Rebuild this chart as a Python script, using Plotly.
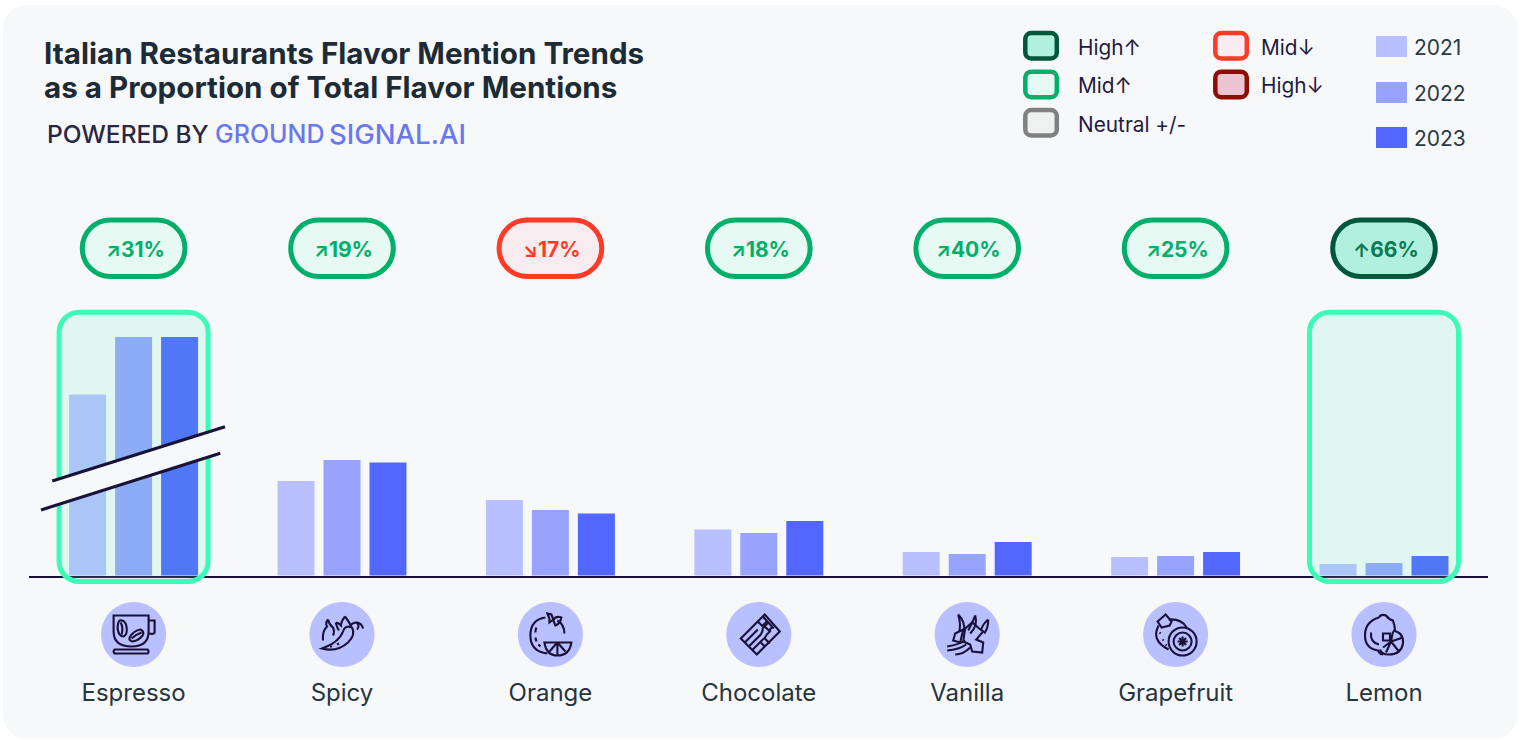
import re
import plotly.graph_objects as go

W, H = 1523, 740
categories = ["Espresso", "Spicy", "Orange", "Chocolate", "Vanilla", "Grapefruit", "Lemon"]
years = ["2021", "2022", "2023"]
v2021 = [18.2, 9.55, 7.65, 4.7, 2.45, 1.95, 1.25]
v2022 = [23.95, 11.65, 6.65, 4.35, 2.25, 2.05, 1.35]
v2023 = [23.95, 11.4, 6.3, 5.55, 3.45, 2.45, 2.05]
bar_colors = ["#B9C0FF", "#98A3FF", "#5366FF"]
pill_texts = ["31%", "19%", "17%", "18%", "40%", "25%", "66%"]
pill_arrows = ["↗", "↗", "↘", "↗", "↗", "↗", "↑"]
pill_kinds = ["mid_up", "mid_up", "mid_down", "mid_up", "mid_up", "mid_up", "high_up"]
highlighted = ["Espresso", "Lemon"]

STYLES = {
    "high_up": ("#00573A", "#B2F0DE", "#0A7A55"),
    "mid_up": ("#00B06A", "#E6F9F3", "#00B06A"),
    "neutral": ("#808080", "#EFF1F1", "#808080"),
    "mid_down": ("#FF3B28", "#F9ECF1", "#FF3B28"),
    "high_down": ("#8F0D00", "#E9C6D2", "#8F0D00"),
}
BG = "#F7F8FA"
INK = "#1A1138"
TEXT = "#26343E"
FONT = "Inter"

CAT_W = 208.4
X_LEFT = 29.4
CX = [X_LEFT + CAT_W * (i + 0.5) for i in range(7)]
BASE_Y = 575.5


def pxx(x):
    return x / W


def pxy(y):
    return 1 - y / H


def P(d, dx=0.0, dy=0.0):
    """Pixel-space SVG path (absolute M L Q C Z) to paper coordinates."""
    out, is_x = [], True
    for tok in re.findall(r"[MLQCZ]|-?\d+\.?\d*", d):
        if tok.isalpha():
            out.append(tok)
            is_x = True
        else:
            v = float(tok)
            out.append(f"{pxx(v + dx):.5f}" if is_x else f"{pxy(v + dy):.5f}")
            is_x = not is_x
    res, i = "", 0
    while i < len(out):
        t = out[i]
        if t.isalpha():
            res += t
            i += 1
        else:
            res += f"{out[i]},{out[i + 1]} "
            i += 2
    return res


def rr(x0, y0, x1, y1, r):
    k = r * 0.4477
    return (f"M{x0 + r} {y0} L{x1 - r} {y0} C{x1 - k} {y0} {x1} {y0 + k} {x1} {y0 + r} "
            f"L{x1} {y1 - r} C{x1} {y1 - k} {x1 - k} {y1} {x1 - r} {y1} "
            f"L{x0 + r} {y1} C{x0 + k} {y1} {x0} {y1 - k} {x0} {y1 - r} "
            f"L{x0} {y0 + r} C{x0} {y0 + k} {x0 + k} {y0} {x0 + r} {y0} Z")


def circ(cx, cy, r):
    k = 0.5523 * r
    return (f"M{cx - r} {cy} C{cx - r} {cy - k} {cx - k} {cy - r} {cx} {cy - r} "
            f"C{cx + k} {cy - r} {cx + r} {cy - k} {cx + r} {cy} "
            f"C{cx + r} {cy + k} {cx + k} {cy + r} {cx} {cy + r} "
            f"C{cx - k} {cy + r} {cx - r} {cy + k} {cx - r} {cy} Z")


shapes = []


def add_path(d, fill="rgba(0,0,0,0)", line=None, lw=0.0, layer="above", dx=0.0, dy=0.0):
    shapes.append(dict(type="path", xref="paper", yref="paper", path=P(d, dx, dy), fillcolor=fill,
                       line=dict(color=line or "rgba(0,0,0,0)", width=lw), layer=layer))


annotations = []


def add_text(x, y, text, size, color, anchor="left", weight=400, family=FONT):
    annotations.append(dict(xref="paper", yref="paper", x=pxx(x), y=pxy(y), text=text, showarrow=False,
                            xanchor=anchor, yanchor="middle", align=anchor,
                            font=dict(family=family, size=size, color=color, weight=weight)))


# Card
add_path(rr(3, 5, 1517.5, 738.5, 24), fill=BG, layer="below")

# Highlight boxes
for cat in highlighted:
    c = CX[categories.index(cat)]
    add_path(rr(c - 74.5, 312.2, c + 74.5, 581.5, 20), fill="rgba(60,250,180,0.12)", line="#3CFBB8", lw=5)

# Axis break on the Espresso bars
add_path("M52.3 481 L225 426.7 L220.3 453.3 L41 510 Z", fill=BG)
add_path("M52.3 481 L225 426.7", line=INK, lw=3)
add_path("M41 510 L220.3 453.3", line=INK, lw=3)

# Pills
for c, t, a, k in zip(CX, pill_texts, pill_arrows, pill_kinds):
    border, fill, txt = STYLES[k]
    add_path(rr(c - 51.3, 220, c + 51.3, 276.5, 28), fill=fill, line=border, lw=5)
    add_text(c + 1.5, 249.5, f'<span style="font-size:19px">{a}</span>{t}', 21, txt, "center", 700)

# Icons
ICONS = {
    "Espresso": [
        "M-20 -19 L15 -19 L15 -3 Q15 12 -2 12 Q-20 12 -20 -3 Z",
        "M15 -14 L21 -14 L21 -2 Q21 0 15 -1",
        "M-19 15 L14 15 Q16 17 14 19 L-19 19 Q-21 17 -19 15 Z",
        "M-14 -14 Q-8 -15 -7 -7 Q-6 0 -10 2 Q-15 2 -16 -6 Q-16 -12 -14 -14 Z",
        "M-13 -12 Q-10 -7 -12 0",
        "M-4 3 Q0 -4 7 -5 Q11 -3 9 1 Q5 6 -1 7 Q-5 6 -4 3 Z",
        "M-2 4 Q2 0 8 -2",
    ],
    "Spicy": [
        "M-20 14 Q-5 18 6 8 Q14 0 10 -7 Q3 -10 1 -3 Q-3 8 -20 14 Z",
        "M8 -7 Q9 -12 15 -12 Q20 -11 21 -6",
        "M15 -12 Q18 -8 15 -5",
        "M-14 -15 Q-13 -10 -9 -7 Q-7 -3 -9 1 M-14 -15 Q-17 -11 -15 -8 Q-20 -3 -19 6",
        "M3 -18 Q6 -14 9 -9 M3 -18 Q-1 -13 -1 -9 Q-5 -13 -6 -11 Q-5 -7 -3 -4",
        "M-12 12 L-10 12 M-5 10 L-3 9",
    ],
    "Orange": [
        "M-5 -17 Q-20 -15 -20 1 Q-20 17 -3 19",
        "M14 -1 Q14 -10 7 -14",
        "M-1 -16 L-3 -21 L1 -20 L3 -15 L-1 -12 Z",
        "M3 -14 Q5 -19 11 -17 Q10 -11 5 -9 Z",
        "M-6 8 L21 8 Q19 21 7 21 Q-4 21 -6 8 Z",
        "M7 8 L7 21 M7 8 L-1 17 M7 8 L15 17",
        "M-15 -2 Q-15 -5 -14 -7 M-15 3 L-14 7 M-12 10 L-10 12",
    ],
    "Chocolate": [
        "M-18 4 L6 -20 L21 -3 L-2 20 Z",
        "M-14 8 L-1 -5 M-10 12 L2 0 Q4 -3 4 -6 Q6 -9 10 -12",
        "M-6 15 L3 6 Q7 3 8 0 L12 -4",
        "M-1 -13 L4 -8 M4 -18 L15 -6 M9 -14 L4 -9 M14 -8 L10 -4 L6 -8",
        "M6 4 L11 9 M2 8 L6 12",
    ],
    "Vanilla": [
        "M-9 -20 Q-2 -13 -3 -3 M-9 -20 Q-6 -10 -8 -3",
        "M8 -19 Q11 -9 3 -1 M8 -19 Q5 -11 1 -4",
        "M21 -15 Q21 -6 17 -1 M21 -15 Q16 -11 14 -5",
        "M-2 -6 L5 -12 L12 -6 L16 -3 L9 5 L16 8 L15 18 L5 17 L3 10 L-4 7 L-3 0 Z",
        "M-20 12 Q-8 10 -2 6 M-20 16 Q-8 15 -1 10 M-12 20 Q-4 20 3 13",
        "M-12 -1 L-4 -5 L-7 8 L-14 6 Z",
    ],
    "Grapefruit": [
        "M-7 -15 Q6 -16 11 -7",
        "M-17 -9 Q-25 6 -7 15",
        "M-18 -13 L-10 -20 L-4 -13 L-6 -9 L-14 -7 Z",
        circ(7, 7, 14), circ(7, 7, 9),
        "M2 7 L12 7 M7 2 L7 12 M3.5 3.5 L10.5 10.5 M3.5 10.5 L10.5 3.5",
        "M-16 -2 L-15 -1 M-13 5 L-12 6 M-10 10 L-9 11",
    ],
    "Lemon": [
        "M-5 -17 Q-3 -21 2 -19 Q5 -15 9 -14 Q11 -8 11 -4",
        "M-5 -17 Q-19 -13 -19 1 Q-19 14 -6 16 Q-4 20 -1 20",
        "M-13 -2 Q-14 8 -5 10",
        "M-1 -1 L6 -1 L6 6 L-1 6 Z",
        "M9 -4 Q20 -2 19 9 Q17 20 5 20 Q-3 20 -4 15",
        "M7 7 L19 3 M7 7 L15 17 M7 7 L2 18 M7 7 L-1 13 M7 7 L9 -3",
    ],
}
for c, cat in zip(CX, categories):
    cy = 634.5
    add_path(circ(c, cy, 32.5), fill="#B9C0FF")
    for d in ICONS[cat]:
        add_path(d, line=INK, lw=2.1, dx=c, dy=cy)

# Title
add_text(42, 53, "Italian Restaurants Flavor Mention Trends", 29.6, "#1C2B36", weight=700)
add_text(42, 87.5, "as a Proportion of Total Flavor Mentions", 29.6, "#1C2B36", weight=700)
add_text(45, 133.5, "POWERED BY", 24.5, "#2A2745", weight=500)
add_text(213, 133.5, "GROUND", 25, "#6A78F0", weight=500)
add_text(327, 133.5, "SIGNAL.AI", 27.5, "#6A78F0", weight=500)

# Legend
legend_items = [
    ("high_up", "High↑", 1023.3, 31, 1076, 47.5),
    ("mid_up", "Mid↑", 1023.3, 69.7, 1076, 85),
    ("neutral", "Neutral +/-", 1023.3, 108, 1076, 125),
    ("mid_down", "Mid↓", 1213.3, 31, 1259, 47.5),
    ("high_down", "High↓", 1213.3, 69.7, 1259, 85),
]
for k, label, x, y, tx, ty in legend_items:
    border, fill, _ = STYLES[k]
    add_path(rr(x + 2, y + 2, x + 33.5, y + 27.5, 6), fill=fill, line=border, lw=4.5)
    add_text(tx, ty, label, 20.8, "#1F1B40")
year_rows = [(36, 47.5), (82, 93.5), (127, 138)]
for yr, col, (y0, ty) in zip(years, bar_colors, year_rows):
    add_path(f"M1376 {y0} L1407 {y0} L1407 {y0 + 21} L1376 {y0 + 21} Z", fill=col)
    add_text(1412, ty, yr, 21, "#2A3A44")

fig = go.Figure()
for yr, vals, col in zip(years, [v2021, v2022, v2023], bar_colors):
    fig.add_trace(go.Bar(x=categories, y=vals, name=yr, marker=dict(color=col, line=dict(width=0)), showlegend=False))

fig.update_layout(
    width=W, height=H, margin=dict(l=0, r=0, t=0, b=0, pad=0, autoexpand=False),
    paper_bgcolor="#FFFFFF", plot_bgcolor="rgba(0,0,0,0)",
    barmode="group", bargap=0.338, bargroupgap=0.196,
    font=dict(family=FONT), showlegend=False,
    shapes=shapes, annotations=annotations,
    xaxis=dict(domain=[pxx(X_LEFT), pxx(X_LEFT + 7 * CAT_W)], range=[-0.5, 6.5], type="category",
               showline=True, linecolor=INK, linewidth=2, showgrid=False, zeroline=False, ticks="",
               ticklabelstandoff=95, tickfont=dict(family=FONT, size=24, color=TEXT), automargin=False),
    yaxis=dict(domain=[pxy(BASE_Y), pxy(BASE_Y - 300)], range=[0.1, 30.1], visible=False, fixedrange=True),
)
fig.write_html("out.html", post_script="document.body.style.margin='0';", config=dict(displayModeBar=False))
